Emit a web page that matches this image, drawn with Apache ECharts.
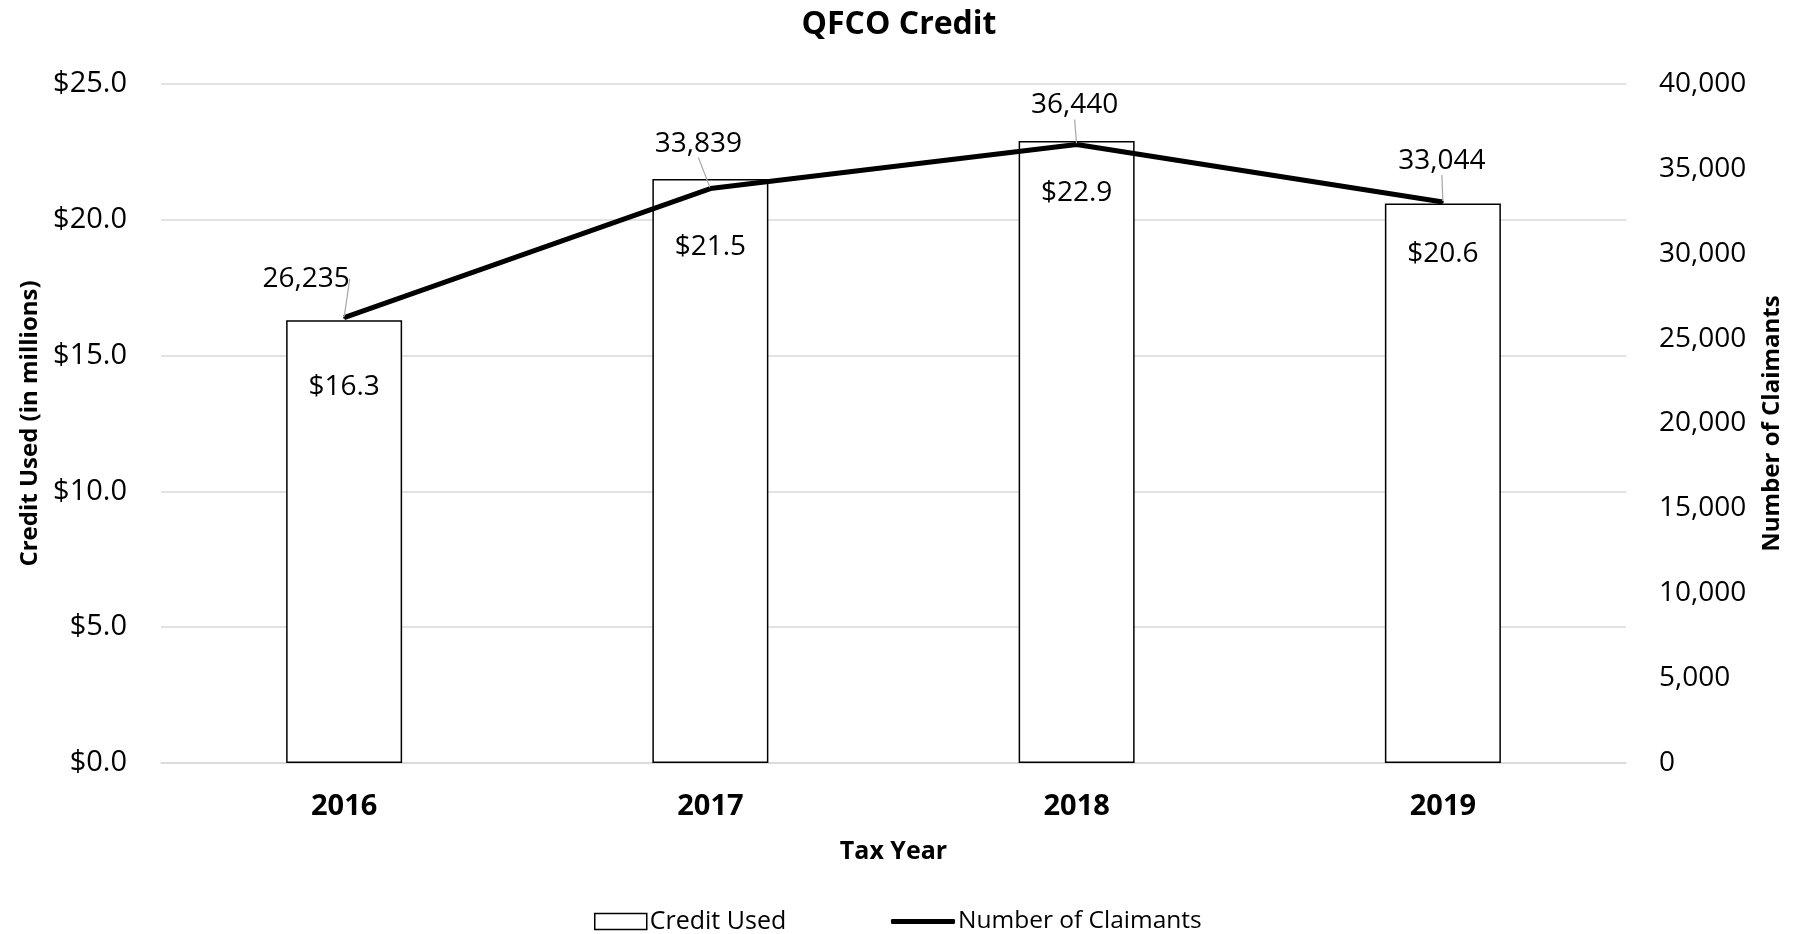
<!DOCTYPE html>
<html>
<head>
<meta charset="utf-8">
<title>QFCO Credit</title>
<script src="https://cdn.jsdelivr.net/npm/echarts@6/dist/echarts.min.js"></script>
<style>
  html, body { margin: 0; padding: 0; background: #fff; }
  #chart { width: 1798px; height: 934px; }
</style>
</head>
<body>
<div id="chart"></div>
<script>
// Tax years and the two measured series
const years = ['2016', '2017', '2018', '2019'];
const creditUsed = [16.3, 21.5, 22.9, 20.6];          // $ millions
const claimants = [26235, 33839, 36440, 33044];      // number of claimants

// Axis ranges
const creditMax = 25, creditStep = 5;
const claimMax = 40000, claimStep = 5000;

// Label placement tweaks (pixels)
const creditLabelDistance = [53, 54, 38, 37];
const claimLabelShift = [[-38, -19], [-12, -25], [-2, -19], [-1, -21]];

const FONT = '"Open Sans", sans-serif';

const chart = echarts.init(document.getElementById('chart'), null, { renderer: 'canvas' });

const option = {
  backgroundColor: '#ffffff',
  animation: false,
  textStyle: { fontFamily: FONT, color: '#000' },
  title: {
    text: 'QFCO Credit',
    left: 'center',
    top: 9,
    padding: 0,
    textStyle: { fontFamily: FONT, fontSize: 32, fontWeight: 'bold', color: '#000' }
  },
  grid: { left: 161, right: 172, top: 84, bottom: 171, containLabel: false },
  legend: [
    {
      data: [{ name: 'Credit Used', icon: 'rect' }],
      left: 594, top: 909,
      itemWidth: 52, itemHeight: 16, itemGap: 0, padding: 0,
      itemStyle: { color: '#fff', borderColor: '#000', borderWidth: 1.5 },
      textStyle: { fontFamily: FONT, fontSize: 25, color: '#000', padding: [0, 0, 0, -2] }
    },
    {
      data: [{ name: 'Number of Claimants', icon: 'roundRect' }],
      left: 891, top: 909,
      itemWidth: 64, itemHeight: 5, itemGap: 0, padding: 0,
      itemStyle: { color: '#000', borderWidth: 0 },
      textStyle: { fontFamily: FONT, fontSize: 24.5, color: '#000', padding: [0, 0, 0, -2] }
    }
  ],
  xAxis: {
    type: 'category',
    data: years,
    name: 'Tax Year',
    nameLocation: 'middle',
    nameGap: 76,
    nameTextStyle: { fontFamily: FONT, fontSize: 25, fontWeight: 'bold', color: '#000' },
    axisLine: { show: true, lineStyle: { color: '#d9d9d9', width: 1.5 } },
    axisTick: { show: false },
    axisLabel: { fontFamily: FONT, fontSize: 29, fontWeight: 'bold', color: '#000', margin: 29 }
  },
  yAxis: [
    {
      type: 'value',
      min: 0, max: creditMax, interval: creditStep,
      name: 'Credit Used (in millions)',
      nameLocation: 'middle',
      nameGap: 118,
      nameTextStyle: { fontFamily: FONT, fontSize: 24, fontWeight: 'bold', color: '#000' },
      axisLine: { show: false },
      axisTick: { show: false },
      splitLine: { show: true, lineStyle: { color: '#d9d9d9', width: 1.5 } },
      axisLabel: {
        fontFamily: FONT, fontSize: 29, color: '#000', margin: 34,
        formatter: v => '$' + v.toFixed(1)
      }
    },
    {
      type: 'value',
      min: 0, max: claimMax, interval: claimStep,
      name: 'Number of Claimants',
      nameLocation: 'middle',
      nameGap: 134,
      nameRotate: 90,
      nameTextStyle: { fontFamily: FONT, fontSize: 24, fontWeight: 'bold', color: '#000' },
      axisLine: { show: false },
      axisTick: { show: false },
      splitLine: { show: false },
      axisLabel: {
        fontFamily: FONT, fontSize: 28, color: '#000', margin: 33,
        formatter: v => v.toLocaleString('en-US')
      }
    }
  ],
  series: [
    {
      name: 'Credit Used',
      type: 'bar',
      yAxisIndex: 0,
      barWidth: 116,
      itemStyle: { color: '#fff', borderColor: '#000', borderWidth: 1.5 },
      data: creditUsed.map((v, i) => ({
        value: v,
        label: { distance: creditLabelDistance[i] }
      })),
      label: {
        show: true,
        position: 'insideTop',
        fontFamily: FONT, fontSize: 28, color: '#000',
        formatter: p => '$' + p.value.toFixed(1)
      },
      z: 2
    },
    {
      name: 'Number of Claimants',
      type: 'line',
      yAxisIndex: 1,
      data: claimants,
      symbol: 'circle',
      symbolSize: 2,
      showSymbol: true,
      lineStyle: { color: '#000', width: 5 },
      itemStyle: { color: '#000' },
      label: {
        show: true,
        position: 'top',
        distance: 5,
        fontFamily: FONT, fontSize: 28, color: '#000',
        formatter: p => p.value.toLocaleString('en-US')
      },
      labelLayout: p => ({ dx: claimLabelShift[p.dataIndex][0], dy: claimLabelShift[p.dataIndex][1] }),
      labelLine: { show: true, lineStyle: { color: '#a6a6a6', width: 1.2 } },
      z: 3
    }
  ]
};

chart.setOption(option);
</script>
</body>
</html>
